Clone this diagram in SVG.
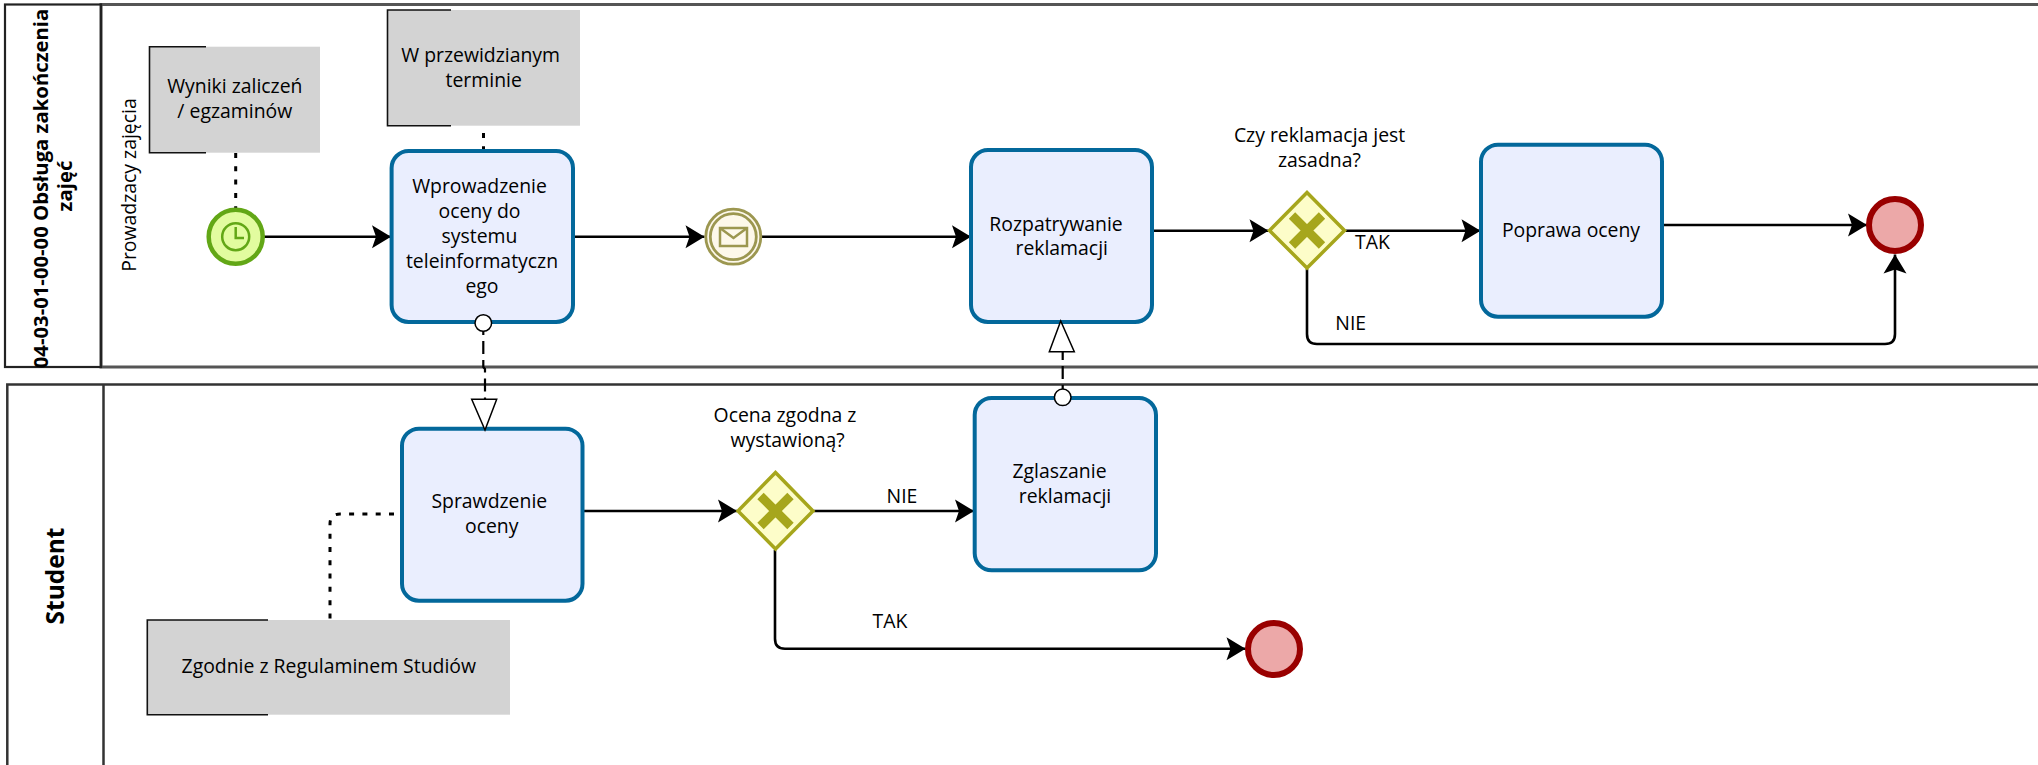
<svg xmlns="http://www.w3.org/2000/svg" width="2038" height="765" viewBox="0 0 2038 765">
<style>
text{font-family:"Open Sans","Noto Sans","Liberation Sans",sans-serif;font-size:19.4px;fill:#000;text-anchor:middle}
text.hd{font-weight:700;font-size:20.3px}
text.hd2{font-weight:700;font-size:24.5px}
.pool1{fill:none;stroke:#555;stroke-width:3}
.hdr{fill:none;stroke:#222;stroke-width:2.200}
.pool2{fill:none;stroke:#333;stroke-width:2.500}
.note{fill:#d3d3d3}
.br{fill:none;stroke:#111;stroke-width:1.600}
.task{fill:#eaeefe;stroke:#03689b;stroke-width:4}
.flow{fill:none;stroke:#000;stroke-width:2.600;marker-end:url(#arrow)}
.dot{fill:none;stroke:#000;stroke-width:3;stroke-dasharray:5 8.300}
.msg{fill:none;stroke:#000;stroke-width:2.200;stroke-dasharray:13 6;stroke-dashoffset:9}
.mk{fill:#fff;stroke:#000;stroke-width:1.500}
.end{fill:#eca8a8;stroke:#990000;stroke-width:6}
.gw{fill:#fdfdc9;stroke:#a6a61c;stroke-width:3.500}
.gx{fill:none;stroke:#a6a61c;stroke-width:9}
</style>
<defs>
<marker id="arrow" markerUnits="userSpaceOnUse" markerWidth="22" markerHeight="26" refX="20" refY="12.500" orient="auto">
<path d="M1 1 L20 12.500 L1 24 L5 12.500 Z" fill="#000"/>
</marker>
</defs>
<g id="pool-obsluga">
<path class="pool1" d="M2040 4.500H101V367H2040"/>
<rect class="hdr" x="5" y="4.500" width="96" height="362.500"/>
<text class="hd" transform="translate(47.500 188.500) rotate(-90)">04-03-01-00-00 Obsługa zakończenia</text>
<text class="hd" transform="translate(71.500 186) rotate(-90)">zajęć</text>
<text transform="translate(135.500 185) rotate(-90)">Prowadzacy zajęcia</text>
</g>
<g id="pool-student">
<path class="pool2" d="M2040 384.500H7.300V767M103.500 384.500V767"/>
<text class="hd2" transform="translate(63.500 576) rotate(-90)">Student</text>
</g>
<g id="connectors">
<path class="dot" d="M235.700 153V208"/>
<path class="dot" d="M483.500 133V150"/>
<path class="dot" d="M394 514H340Q330 514 330 524V620"/>
<path class="flow" d="M264 236.700H391"/>
<path class="flow" d="M574 236.700H704.500"/>
<path class="flow" d="M761.500 236.700H971"/>
<path class="flow" d="M1153 230.700H1268.500"/>
<path class="flow" d="M1345.500 230.700H1480.500"/>
<path class="flow" d="M1663 225H1867"/>
<path class="flow" d="M1307 269V334Q1307 344 1317 344H1885Q1895 344 1895 334V254.500"/>
<path class="flow" d="M583.500 511H737"/>
<path class="flow" d="M814 511H974"/>
<path class="flow" d="M775 550V638.700Q775 648.700 785 648.700H1245.500"/>
<path class="msg" d="M483.300 331V367L485 369V399.500"/>
<path class="msg" d="M1062.700 389V352"/>
</g>
<g id="note-wyniki">
<rect class="note" x="149.500" y="46.700" width="170.500" height="106"/>
<path class="br" d="M206 46.700H149.500V152.700H206"/>
<text x="234.800" y="93">Wyniki zaliczeń</text>
<text x="234.800" y="118">/ egzaminów</text>
</g>
<g id="note-termin">
<rect class="note" x="387.500" y="10" width="192.500" height="115.700"/>
<path class="br" d="M451 10H387.500V125.700H451"/>
<text x="480.600" y="62.300">W przewidzianym</text>
<text x="483.700" y="86.700">terminie</text>
</g>
<g id="note-regulamin">
<rect class="note" x="147.300" y="620" width="362.700" height="94.700"/>
<path class="br" d="M268 620H147.300V714.700H268"/>
<text x="328.800" y="673.300">Zgodnie z Regulaminem Studiów</text>
</g>
<g id="start-timer">
<circle cx="235.700" cy="236.700" r="27" fill="#e2fc9f" stroke="#62a716" stroke-width="4.500"/>
<circle cx="235.700" cy="236.700" r="13.500" fill="none" stroke="#62a716" stroke-width="2.500"/>
<path d="M235.700 227V238H244" fill="none" stroke="#62a716" stroke-width="2.500"/>
</g>
<g id="task-wprowadzenie">
<rect class="task" x="391.600" y="151" width="181.400" height="171" rx="17"/>
<text x="479.500" y="193">Wprowadzenie</text>
<text x="479.500" y="217.800">oceny do</text>
<text x="479.500" y="242.700">systemu</text>
<text x="482" y="267.700">teleinformatyczn</text>
<text x="482" y="292.700">ego</text>
<circle class="mk" cx="483.300" cy="323" r="8.300"/>
</g>
<g id="event-message">
<circle cx="733.300" cy="236.700" r="27.500" fill="#fdf8ea" stroke="#9c9750" stroke-width="2.800"/>
<circle cx="733.300" cy="236.700" r="23" fill="#fdf8ea" stroke="#9c9750" stroke-width="2.800"/>
<rect x="720" y="228" width="27" height="18" fill="none" stroke="#9c9750" stroke-width="2.500"/>
<path d="M720 228L733.500 238L747 228" fill="none" stroke="#9c9750" stroke-width="2.500"/>
</g>
<g id="task-rozpatrywanie">
<rect class="task" x="971" y="150" width="181" height="172" rx="17"/>
<text x="1056" y="230.700">Rozpatrywanie</text>
<text x="1061.700" y="255">reklamacji</text>
</g>
<g id="gateway-zasadna">
<path class="gw" d="M1307 192.500L1344.500 230.500L1307 268L1269.500 230.500Z"/>
<path class="gx" d="M1292 215.500L1322 245.500M1322 215.500L1292 245.500"/>
<text x="1319.600" y="142">Czy reklamacja jest</text>
<text x="1319.400" y="166.700">zasadna?</text>
</g>
<g id="task-poprawa">
<rect class="task" x="1481" y="144.700" width="181" height="172" rx="17"/>
<text x="1571" y="236.700">Poprawa oceny</text>
</g>
<g id="end-1">
<circle class="end" cx="1895" cy="225" r="26"/>
</g>
<g id="task-sprawdzenie">
<rect class="task" x="402" y="428.700" width="180.500" height="172" rx="17"/>
<text x="489.300" y="508.300">Sprawdzenie</text>
<text x="491.700" y="533.300">oceny</text>
</g>
<g id="gateway-ocena">
<path class="gw" d="M775.500 472.500L813 511L775.500 549L738 511Z"/>
<path class="gx" d="M760.500 496L790.500 526M790.500 496L760.500 526"/>
<text x="785" y="422.300">Ocena zgodna z</text>
<text x="787.600" y="447.300">wystawioną?</text>
</g>
<g id="task-zglaszanie">
<rect class="task" x="974.700" y="398" width="181.300" height="172.300" rx="17"/>
<text x="1059.500" y="477.700">Zglaszanie</text>
<text x="1065" y="502.700">reklamacji</text>
<circle class="mk" cx="1062.700" cy="397.300" r="8.300"/>
</g>
<g id="end-2">
<circle class="end" cx="1274" cy="649" r="26"/>
</g>
<g id="flow-labels">
<text x="1372.400" y="249">TAK</text>
<text x="1350.700" y="330">NIE</text>
<text x="902" y="502.700">NIE</text>
<text x="890" y="627.700">TAK</text>
</g>
<g id="message-heads">
<path class="mk" d="M471.700 399.300H496.700L485 430Z"/>
<path class="mk" d="M1049.300 351.700H1074.300L1060.700 321Z"/>
</g>
</svg>
